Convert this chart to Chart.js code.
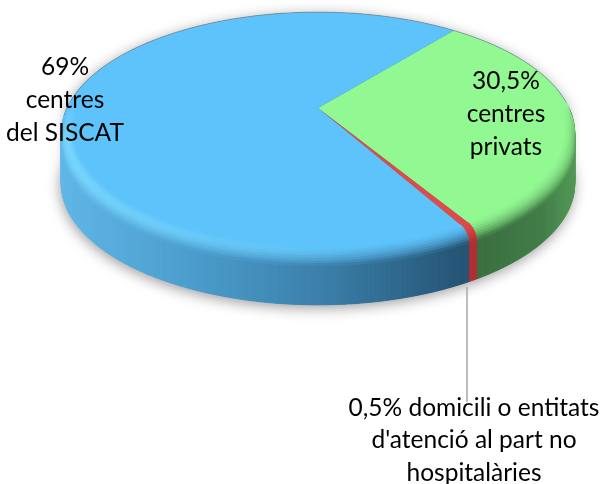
<!DOCTYPE html>
<html lang="ca">
<head>
  <meta charset="UTF-8">
  <title>Centres</title>
  <script src="https://cdn.jsdelivr.net/npm/chart.js"></script>
  <style>
    html, body { margin: 0; padding: 0; background: #fff; }
    canvas { display: block; }
  </style>
</head>
<body>
  <canvas id="pie" width="603" height="484"></canvas>

  <script>
    const categories = ['centres privats', 'domicili o entitats', 'centres del SISCAT'];
    const values = [30.5, 0.5, 69];
    const labelLines = [
      ['30,5%', 'centres', 'privats'],
      ["0,5% domicili o entitats", "d'atenció al part no", 'hospitalàries'],
      ['69%', 'centres', 'del SISCAT']
    ];

    // where each label goes: centre x, y of first line
    const labelPos = [[506, 81], [474, 408], [65, 67]];
    const lineGap = [33, 32.5, 33];

    const topColors = ['#92f892', '#e04a48', '#5ec3fb'];
    // side colour along x for each slice
    const sideStops = [
      [[470, '#3b6e3f'], [540, '#437d47'], [576, '#559a57']],
      [[460, '#b42e30'], [480, '#b42e30']],
      [[60, '#62b8e8'], [200, '#4b9ccb'], [330, '#3b7ea8'], [465, '#265474']]
    ];
    const highlight = ['#b4ffb4', '#ff7070', '#82e0ff'];

    // perspective of the disc
    const cx = 318, y0 = 108, A = 251, B = 116, k = -0.21, depth = 50;

    function pt(a, r, z) {
      const u = r * Math.cos(a), v = r * Math.sin(a), d = 1 + k * v;
      return [cx + A * u / d, (a === 0 && r === 0 ? y0 : y0 + B * v / d) + z];
    }
    function rgb(hex) {
      return [1, 3, 5].map(i => parseInt(hex.substr(i, 2), 16));
    }
    function mix(c1, c2, t) {
      return c1.map((c, i) => c + (c2[i] - c) * t);
    }
    function css(c) {
      return `rgb(${c.map(Math.round).join(',')})`;
    }
    function sideColor(stops, x) {
      if (x <= stops[0][0]) return rgb(stops[0][1]);
      for (let i = 1; i < stops.length; i++) {
        if (x <= stops[i][0]) {
          const t = (x - stops[i - 1][0]) / (stops[i][0] - stops[i - 1][0]);
          return mix(rgb(stops[i - 1][1]), rgb(stops[i][1]), t);
        }
      }
      return rgb(stops[stops.length - 1][1]);
    }
    function quad(ctx, p1, p2, p3, p4, color) {
      ctx.beginPath();
      ctx.moveTo(p1[0], p1[1]);
      ctx.lineTo(p2[0], p2[1]);
      ctx.lineTo(p3[0], p3[1]);
      ctx.lineTo(p4[0], p4[1]);
      ctx.closePath();
      ctx.fillStyle = color;
      ctx.strokeStyle = color;
      ctx.lineWidth = 0.8;
      ctx.fill();
      ctx.stroke();
    }

    const STEP = Math.PI / 360;

    const disc3d = {
      id: 'disc3d',
      // the slices are drawn here from the angles Chart.js worked out
      beforeDatasetDraw(chart) {
        const ctx = chart.ctx;
        const arcs = chart.getDatasetMeta(0).data;
        ctx.save();

        // soft shadow under the whole disc
        ctx.save();
        ctx.shadowColor = 'rgba(0,0,0,0.4)';
        ctx.shadowBlur = 14;
        ctx.shadowOffsetY = 3;
        ctx.shadowOffsetX = -1;
        ctx.fillStyle = '#3b7ea8';
        ctx.beginPath();
        for (let a = 0; a <= Math.PI * 2; a += STEP * 2) {
          const p = pt(a, 1, a <= Math.PI ? depth : 0);
          ctx.lineTo(p[0], p[1]);
        }
        ctx.closePath();
        ctx.fill();
        ctx.restore();

        // side wall
        arcs.forEach((arc, i) => {
          for (let a = arc.startAngle; a < arc.endAngle; a += STEP) {
            const n = ((a % (Math.PI * 2)) + Math.PI * 2) % (Math.PI * 2);
            if (n > Math.PI + 0.1) continue;
            const b = Math.min(a + STEP, arc.endAngle);
            const p1 = pt(a, 1, 0), p2 = pt(b, 1, 0), p3 = pt(b, 1, depth), p4 = pt(a, 1, depth);
            quad(ctx, p1, p2, p3, p4, css(sideColor(sideStops[i], p1[0])));
          }
        });

        // top surface
        arcs.forEach((arc, i) => {
          const o = pt(0, 0, 0);
          ctx.beginPath();
          ctx.moveTo(o[0], o[1]);
          for (let a = arc.startAngle; a < arc.endAngle; a += STEP) {
            const p = pt(a, 1, 0);
            ctx.lineTo(p[0], p[1]);
          }
          const e = pt(arc.endAngle, 1, 0);
          ctx.lineTo(e[0], e[1]);
          ctx.closePath();
          ctx.fillStyle = topColors[i];
          ctx.fill();
        });

        // thin grey line along the back edge
        ctx.beginPath();
        for (let a = Math.PI * 0.98; a <= Math.PI * 2.02; a += STEP) {
          const p = pt(a, 1, 0);
          ctx.lineTo(p[0], p[1]);
        }
        ctx.strokeStyle = 'rgba(110,120,125,0.6)';
        ctx.lineWidth = 1;
        ctx.stroke();

        // rounded front edge, blends top colour into the side colour
        const rings = 8;
        arcs.forEach((arc, i) => {
          const top = rgb(topColors[i]), light = rgb(highlight[i]);
          for (let a = arc.startAngle; a < arc.endAngle; a += STEP) {
            const n = ((a % (Math.PI * 2)) + Math.PI * 2) % (Math.PI * 2);
            if (n > Math.PI + 0.05 && n < Math.PI * 2 - 0.05) continue;
            const b = Math.min(a + STEP, arc.endAngle);
            const sn = Math.sin(n);
            const w = Math.min(1, Math.max(0, sn * 4 + 0.15));
            const h = Math.min(1, Math.max(0, 0.2 - Math.cos(n) * 0.9));
            for (let j = 0; j < rings; j++) {
              const t1 = j / rings, t2 = (j + 1) / rings, tm = (t1 + t2) / 2;
              const r1 = 0.955 + 0.045 * Math.sin(t1 * Math.PI / 2);
              const r2 = 0.955 + 0.045 * Math.sin(t2 * Math.PI / 2);
              const z1 = 11 * (1 - Math.cos(t1 * Math.PI / 2)) * w;
              const z2 = 11 * (1 - Math.cos(t2 * Math.PI / 2)) * w;
              const p1 = pt(a, r1, z1), p2 = pt(b, r1, z1), p3 = pt(b, r2, z2), p4 = pt(a, r2, z2);
              let c = mix(top, light, h * Math.sin(tm * Math.PI) * 0.9);
              const side = sideColor(sideStops[i], p1[0]);
              c = mix(c, side, Math.pow(tm, 1.8));
              c = mix(top, c, w);
              quad(ctx, p1, p2, p3, p4, css(c));
            }
          }
        });

        ctx.restore();
        return false;
      },
      afterDatasetsDraw(chart) {
        const ctx = chart.ctx;
        ctx.save();

        // leader line for the smallest slice
        ctx.strokeStyle = '#a9a9a9';
        ctx.lineWidth = 1.5;
        ctx.beginPath();
        ctx.moveTo(467, 287);
        ctx.lineTo(467, 402);
        ctx.stroke();

        ctx.fillStyle = '#000';
        ctx.font = '24.5px Lato, "Open Sans", sans-serif';
        ctx.textAlign = 'center';
        ctx.textBaseline = 'middle';
        labelLines.forEach((lines, i) => {
          lines.forEach((line, j) => {
            ctx.fillText(line, labelPos[i][0], labelPos[i][1] + j * lineGap[i]);
          });
        });
        ctx.restore();
      }
    };

    new Chart(document.getElementById('pie'), {
      type: 'pie',
      data: {
        labels: categories,
        datasets: [{ data: values, backgroundColor: topColors, borderWidth: 0 }]
      },
      options: {
        responsive: false,
        animation: false,
        rotation: 39,
        plugins: { legend: { display: false }, tooltip: { enabled: false } }
      },
      plugins: [disc3d]
    });
  </script>
</body>
</html>
